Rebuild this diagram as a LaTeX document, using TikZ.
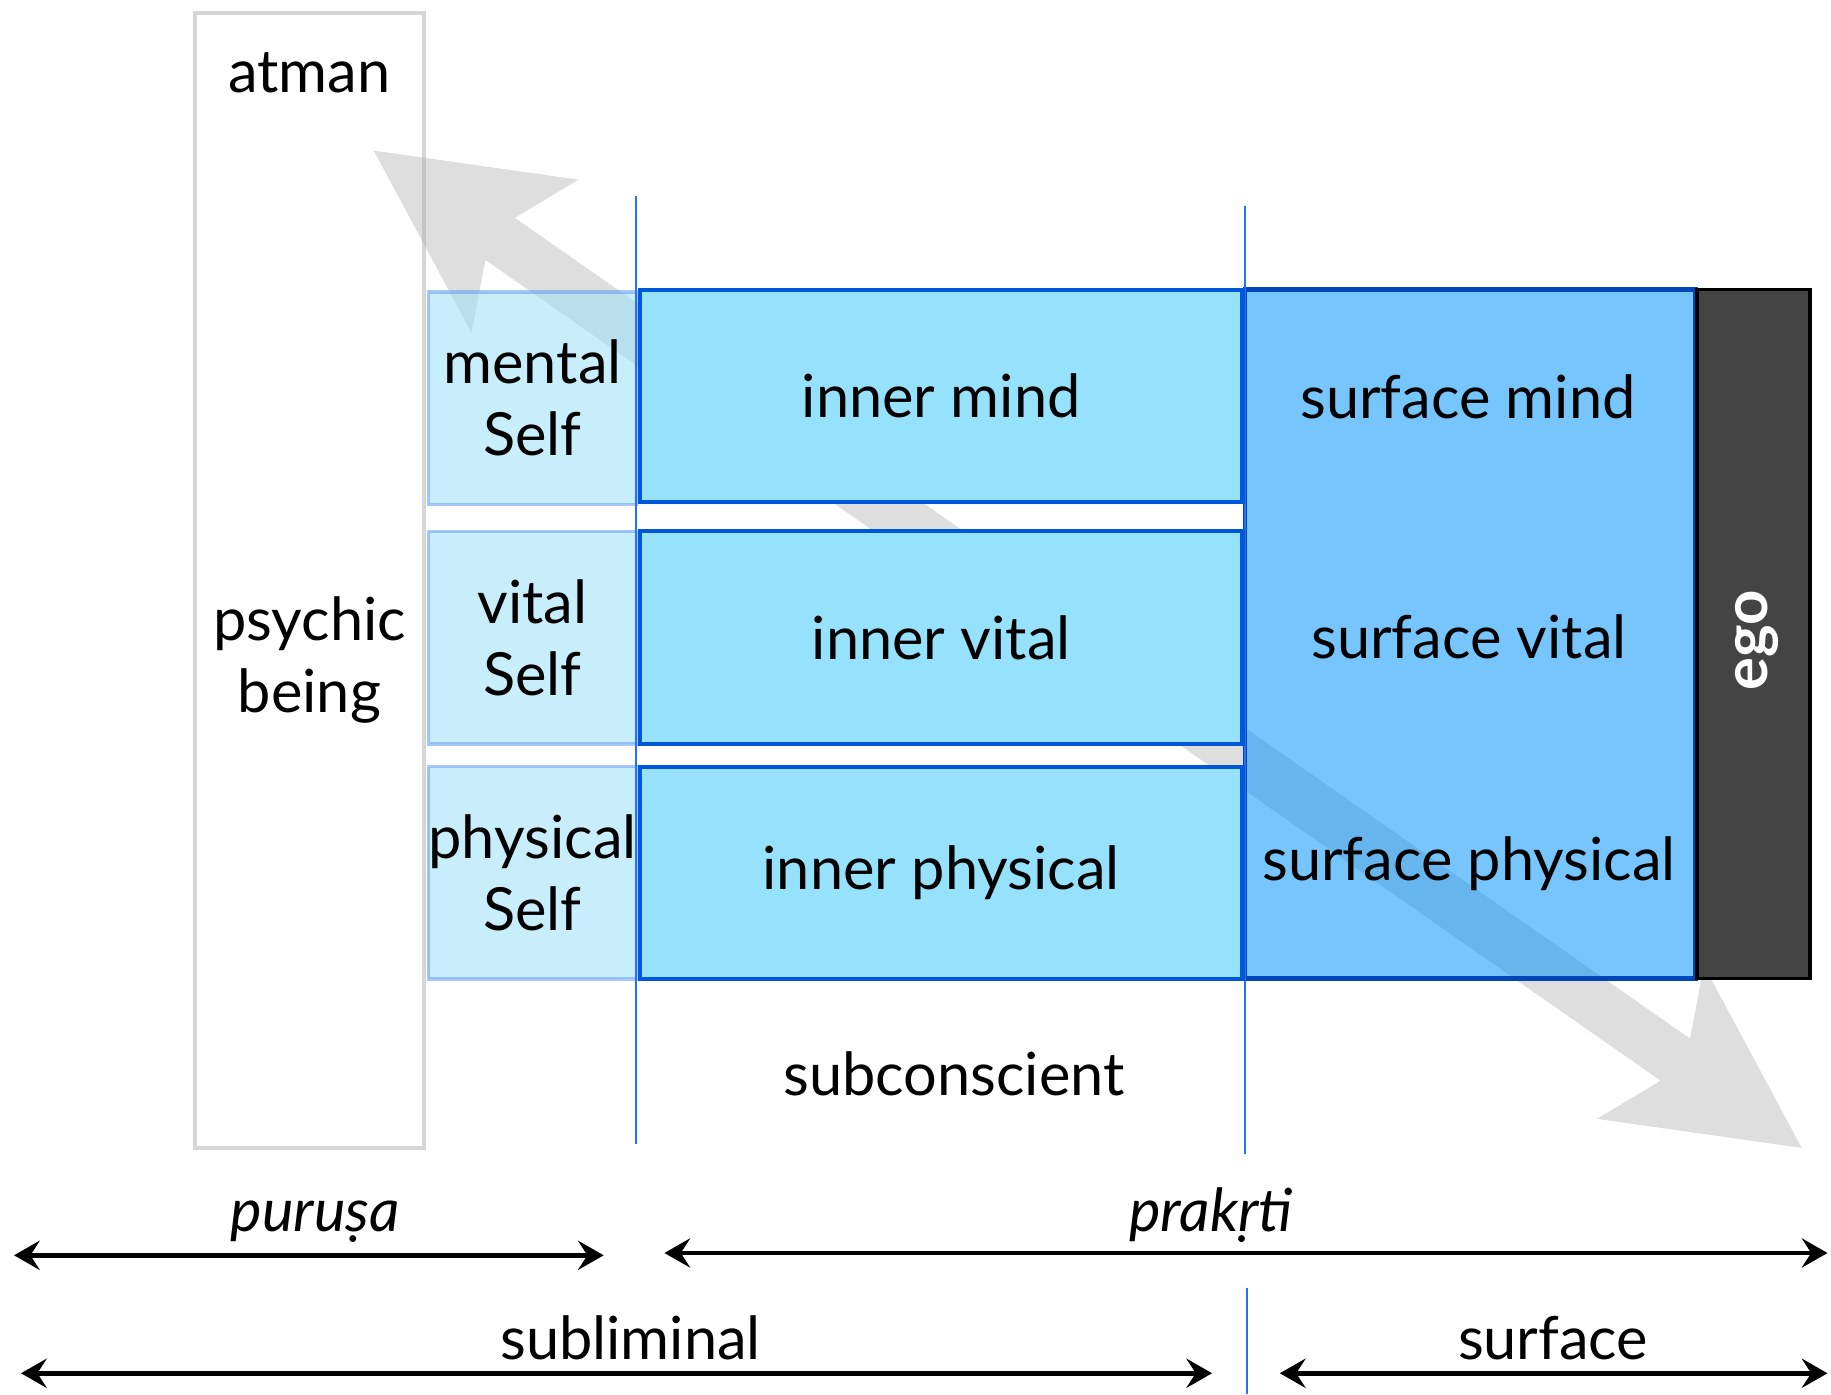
\documentclass[tikz,border=0pt]{standalone}
\usepackage{fontspec}
\setmainfont{Lato}
\usepackage{tikz}
\usetikzlibrary{arrows.meta, positioning}

\definecolor{selffill}{RGB}{155,224,250}
\definecolor{selfline}{RGB}{97,155,242}
\definecolor{innerfill}{HTML}{96E2FD}
\definecolor{innerline}{HTML}{0057D9}
\definecolor{surffill}{RGB}{5,150,250}
\definecolor{surfline}{HTML}{0046B8}
\definecolor{egofill}{HTML}{444444}
\definecolor{divline}{HTML}{2272FF}
\definecolor{arrowgray}{HTML}{DEDEDE}
\definecolor{psyline}{HTML}{ADADAD}

\begin{document}
\begin{tikzpicture}[x=0.1mm, y=-0.1mm,
    every node/.style={font=\fontsize{14.5}{17.6}\selectfont},
    psybox/.style={draw=psyline, draw opacity=0.5, line width=0.9pt, minimum width=19.6mm, minimum height=97.2mm, inner sep=0pt},
    selfbox/.style={draw=selfline, fill=selffill, fill opacity=0.55, draw opacity=0.55, text opacity=1, line width=0.85pt, minimum width=17.8mm, minimum height=18.2mm, align=center, inner sep=0pt},
    innerbox/.style={draw=innerline, fill=innerfill, line width=1pt, minimum width=51.6mm, minimum height=18.2mm, inner sep=0pt},
    surfbox/.style={draw=surfline, fill=surffill, fill opacity=0.55, line width=1.1pt, minimum width=38.6mm, minimum height=59mm, inner sep=0pt},
    egobox/.style={draw=black, fill=egofill, line width=0.9pt, minimum width=9.7mm, minimum height=59mm, inner sep=0pt},
    divider/.style={divline, line width=0.45pt},
    span/.style={{Stealth[length=2.2mm,width=2.5mm,inset=0.8mm]}-{Stealth[length=2.2mm,width=2.5mm,inset=0.8mm]}, line width=1.1pt}
]
\useasboundingbox (0,0) rectangle (1568,1194);

% Big gray arrow (behind everything)
\begin{scope}[shift={(931.5,556)}, rotate=-34.93]
\fill[arrowgray] (-745.8,0) -- (-587.8,-80) -- (-613.8,-22) -- (613.8,-22) -- (587.8,-80)
    -- (745.8,0) -- (587.8,80) -- (613.8,22) -- (-613.8,22) -- (-587.8,80) -- cycle;
\end{scope}

% Psychic being column
\node[psybox] (psy) at (265,497) {};
\node (atman) at (265,62) {atman};
\node[align=center] (psych) at (265,565) {psychic\\being};

% Self column
\node[selfbox] (mself) at (456,341) {mental\\Self};
\node[selfbox] (vself) at (456,546) {vital\\Self};
\node[selfbox] (pself) at (456,747.5) {physical\\Self};

% Surface and ego
\node[surfbox] (surf) at (1259,543) {};
\node (smind) at (1257,340) {surface mind};
\node (svital) at (1258,545) {surface vital};
\node (sphys) at (1258,740) {surface physical};
\node[egobox] (ego) at (1501.5,543) {};
\node[rotate=90, text=white, font=\fontsize{15}{17.6}\selectfont\bfseries] (egotext) at (1505,548) {ego};

% Dividing lines
\draw[divider] (545,168) -- (545,980);
\draw[divider] (1066,176) -- (1066,988);
\draw[divider] (1068,1103) -- (1068,1194);

% Inner column
\node[innerbox] (imind) at (806,339) {inner mind};
\node[innerbox] (ivital) at (806,546) {inner vital};
\node[innerbox] (iphys) at (806,747.5) {inner physical};
\node (subc) at (817,920) {subconscient};

% Spans at the bottom
\coordinate (pul) at (12,1075);
\coordinate (pur) at (517,1075);
\coordinate (prl) at (569,1073);
\coordinate (prr) at (1565,1073);
\coordinate (sbl) at (18,1176);
\coordinate (sbr) at (1038,1176);
\coordinate (sfl) at (1096,1176);
\coordinate (sfr) at (1565,1176);
\draw[span] (pul) -- (pur);
\draw[span] (prl) -- (prr);
\draw[span] (sbl) -- (sbr);
\draw[span] (sfl) -- (sfr);
\node (purusa) at (270,1046) {\itshape puruṣa};
\node (prakrti) at (1037,1041) {\itshape prakṛti};
\node (sublim) at (540,1146) {subliminal};
\node (surface) at (1330,1146) {surface};
\end{tikzpicture}
\end{document}
